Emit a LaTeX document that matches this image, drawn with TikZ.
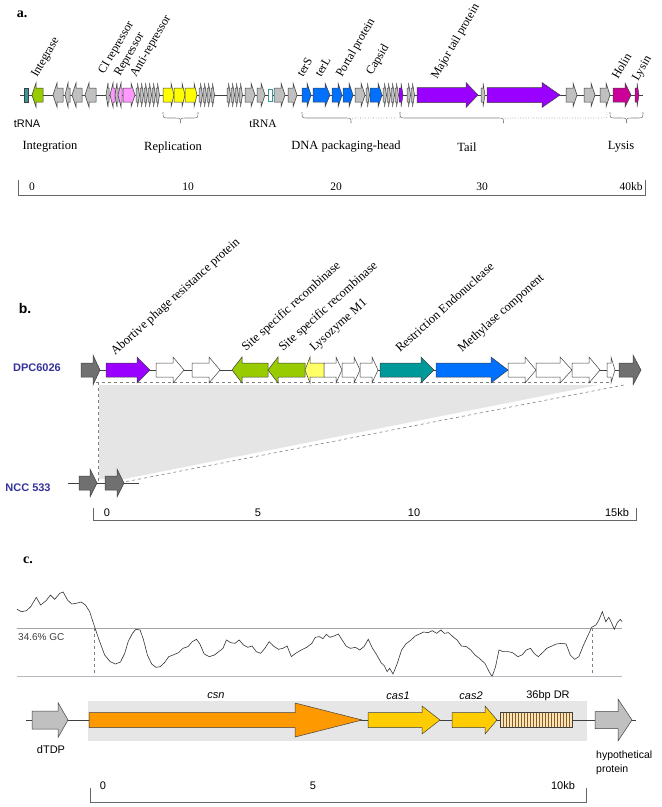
\documentclass[tikz,border=0pt]{standalone}
\usepackage{fontspec}
\setmainfont{Liberation Serif}
\setsansfont{Liberation Sans}
\usetikzlibrary{positioning}
\definecolor{gGrey}{HTML}{C0C0C0}
\definecolor{gLine}{HTML}{404040}
\definecolor{gGreen}{HTML}{99CC00}
\definecolor{gPink}{HTML}{FF99FF}
\definecolor{gYellow}{HTML}{FFFF00}
\definecolor{gBlue}{HTML}{0070FF}
\definecolor{gPurple}{HTML}{9900FF}
\definecolor{gMag}{HTML}{CC0099}
\definecolor{gTeal}{HTML}{339999}
\definecolor{bDark}{HTML}{707070}
\definecolor{bTeal}{HTML}{009999}
\definecolor{bYellow}{HTML}{FFFF66}
\definecolor{bNavy}{HTML}{333399}
\definecolor{cOrange}{HTML}{FF9900}
\definecolor{cYellow}{HTML}{FFCC00}
\definecolor{cDR}{HTML}{FBE5B5}
\definecolor{cStripe}{HTML}{8B5A2B}
\definecolor{cBg}{HTML}{E6E6E6}
\definecolor{cSep}{HTML}{B4BAC0}
% gene arrows: style, x1, x2, y, head length, body half, head half
\newcommand{\geneR}[7]{\filldraw[#1] (#2,#4-#6) -- (#3-#5,#4-#6) -- (#3-#5,#4-#7) -- (#3,#4) -- (#3-#5,#4+#7) -- (#3-#5,#4+#6) -- (#2,#4+#6) -- cycle;}
\newcommand{\geneL}[7]{\filldraw[#1] (#3,#4-#6) -- (#2+#5,#4-#6) -- (#2+#5,#4-#7) -- (#2,#4) -- (#2+#5,#4+#7) -- (#2+#5,#4+#6) -- (#3,#4+#6) -- cycle;}
% brace under a module: x left, x right, y, style of right half
\newcommand{\gbrace}[4]{%
  \pgfmathsetmacro{\bmid}{(#1+#2)/2}
  \draw[brc] (#1,#3) .. controls (#1,#3+6) .. (#1+6,#3+6) -- (\bmid-6,#3+6) .. controls (\bmid,#3+6) .. (\bmid,#3+11);
  \draw[brc,#4] (\bmid,#3+11) .. controls (\bmid,#3+6) .. (\bmid+6,#3+6) -- (#2-6,#3+6) .. controls (#2,#3+6) .. (#2,#3);}

\begin{document}
\begin{tikzpicture}[x=1pt,y=-1pt,
    trk/.style={draw=gLine, line width=0.6pt},
    gen/.style={draw=gLine, line width=0.5pt},
    ga/.style={gen, fill=gGrey},
    brc/.style={draw=gray, line width=0.6pt},
    sbar/.style={draw=gray!80!black, line width=0.7pt},
    dsh/.style={draw=gray, dashed, line width=0.6pt},
    alab/.style={font=\fontsize{12}{14}\selectfont, rotate=60, anchor=base west, inner sep=0pt},
    blab/.style={font=\fontsize{12.5}{14}\selectfont, rotate=42, anchor=base west, inner sep=0pt},
    mlab/.style={font=\fontsize{12.5}{14}\selectfont, inner sep=0pt},
    slab/.style={font=\fontsize{11.5}{14}\selectfont, inner sep=0pt},
    ssans/.style={font=\sffamily\fontsize{11}{13}\selectfont, inner sep=0pt},
    panel/.style={font=\bfseries\fontsize{14}{16}\selectfont, inner sep=0pt},
    strain/.style={font=\sffamily\bfseries\fontsize{11}{13}\selectfont, text=bNavy, inner sep=0pt}]
  \useasboundingbox (0,0) rectangle (662,807);

  % ---------------- a. ----------------
  \node[panel] (pa) at (22,14) {a.};
  \draw[trk] (20,95) -- (643,95);
  \filldraw[gen, fill=gTeal] (24,88) rectangle (28,102);
  \geneL{gen, fill=gGreen}{32}{43}{95}{4}{7}{12}
  \geneL{ga}{53}{63}{95}{4}{7}{12}
  \geneL{ga}{65}{70}{95}{3}{7}{12}
  \geneL{ga}{72}{82}{95}{4}{7}{12}
  \geneL{ga}{85}{96}{95}{4}{7}{12}
  \geneL{ga}{106}{109}{95}{2}{7}{12}
  \geneL{gen, fill=gPink}{110}{115}{95}{3}{7}{12}
  \geneL{ga}{115}{118}{95}{2}{7}{12}
  \geneL{gen, fill=gPink}{118}{122}{95}{3}{7}{12}
  \geneR{gen, fill=gPink}{123}{135}{95}{4}{7}{12}
  \foreach \s in {136,140,...,158}
    {\geneR{ga}{\s}{\s+3.5}{95}{2}{7}{12}}
  \geneR{gen, fill=gYellow}{163}{174}{95}{3}{7}{12}
  \geneR{gen, fill=gYellow}{174}{185}{95}{3}{7}{12}
  \geneR{gen, fill=gYellow}{185}{197}{95}{3}{7}{12}
  \foreach \s in {199,203,207,211}
    {\geneR{ga}{\s}{\s+3.5}{95}{2}{7}{12}}
  \foreach \s in {227,231,235,239}
    {\geneR{ga}{\s}{\s+3.5}{95}{2}{7}{12}}
  \geneR{ga}{245}{255}{95}{4}{7}{12}
  \geneR{ga}{257}{265}{95}{4}{7}{12}
  \filldraw[gen, draw=gTeal, fill=white] (268,89) rectangle (272,101);
  \geneR{ga}{274}{285}{95}{4}{7}{12}
  \geneR{ga}{288}{297}{95}{4}{7}{12}
  \geneR{gen, fill=gBlue}{302}{311}{95}{4}{7}{12}
  \geneR{gen, fill=gBlue}{313}{330}{95}{5}{7}{12}
  \geneR{gen, fill=gBlue}{332}{342}{95}{4}{7}{12}
  \geneR{gen, fill=gBlue}{343}{353}{95}{4}{7}{12}
  \geneR{ga}{355}{365}{95}{4}{7}{12}
  \geneR{ga}{366}{369.5}{95}{2}{7}{12}
  \geneR{gen, fill=gBlue}{370}{382}{95}{4}{7}{12}
  \foreach \s in {383,387,391,395}
    {\geneR{ga}{\s}{\s+3.5}{95}{2}{7}{12}}
  \geneR{gen, fill=gPurple}{399}{403}{95}{2}{7}{12}
  \geneR{ga}{407}{410.5}{95}{2}{7}{12}
  \geneR{ga}{411}{414.5}{95}{2}{7}{12}
  \geneR{gen, fill=gPurple}{417}{478}{95}{12}{7.5}{12.5}
  \geneR{ga}{481}{485}{95}{2}{7}{12}
  \geneR{gen, fill=gPurple}{487}{560}{95}{18}{7.5}{12.5}
  \geneR{ga}{566}{577}{95}{4}{7}{12}
  \geneR{ga}{584}{595}{95}{4}{7}{12}
  \geneR{ga}{600}{610}{95}{4}{7}{12}
  \geneR{gen, fill=gMag}{613}{631}{95}{6}{7}{12}
  \geneR{gen, fill=gMag}{635}{639}{95}{2}{7}{12}

  \node[alab] (lint) at (37,78) {Integrase};
  \node[alab] (lci) at (104,75) {CI repressor};
  \node[alab] (lrep) at (120,77) {Repressor};
  \node[alab] (lanti) at (136,78) {Anti-repressor};
  \node[alab] (lters) at (303,78) {terS};
  \node[alab] (lterl) at (321,78) {terL};
  \node[alab] (lport) at (342,78) {Portal protein};
  \node[alab] (lcap) at (372,76) {Capsid};
  \node[alab] (ltail) at (437,80) {Major tail protein};
  \node[alab] (lhol) at (618,80) {Holin};
  \node[alab] (llys) at (638,82) {Lysin};

  \node[ssans] (trna1) at (27,124) {tRNA};
  \node[slab] (trna2) at (263,124) {tRNA};
  \gbrace{163}{198}{112}{}
  \gbrace{302}{400}{112}{dotted}
  \gbrace{400}{607}{112}{dotted}
  \gbrace{610}{643}{112}{}
  \node[mlab] (mint) at (50,147) {Integration};
  \node[mlab] (mrep) at (173,147) {Replication};
  \node[mlab] (mdna) at (346,147) {DNA packaging-head};
  \node[mlab] (mtail) at (467,147) {Tail};
  \node[mlab] (mlys) at (621,147) {Lysis};

  \draw[sbar] (18,180) -- (18,195) -- (645,195) -- (645,180);
  \node[slab] (a0) at (32,187) {0};
  \node[slab] (a10) at (188,187) {10};
  \node[slab] (a20) at (336,187) {20};
  \node[slab] (a30) at (482,187) {30};
  \node[slab] (a40) at (631,187) {40kb};

  % ---------------- b. ----------------
  \node[panel, font=\sffamily\bfseries\fontsize{14}{16}\selectfont] (pb) at (25,308) {b.};
  \node[strain] (dpc) at (37,368) {DPC6026};
  \node[strain] (ncc) at (28,488) {NCC 533};

  \fill[black!10] (99,385) -- (598,385) -- (124,479) -- (99,479) -- cycle;
  \draw[dsh] (96,382) -- (611,382);
  \draw[dsh] (98,382) -- (98,481);
  \draw[dsh] (624,385) -- (124,482);

  \draw[trk] (81,370) -- (619,370);
  \geneR{gen, fill=bDark}{81}{100}{370}{7}{7}{15}
  \geneR{gen, fill=gPurple}{106}{150}{370}{13}{7}{13}
  \geneR{gen, fill=white}{156}{184}{370}{11}{7}{13}
  \geneR{gen, fill=white}{192}{220}{370}{11}{7}{13}
  \geneL{gen, fill=gGreen}{232}{268}{370}{10}{7}{13}
  \geneL{gen, fill=gGreen}{268}{305}{370}{10}{7}{13}
  \geneL{gen, fill=bYellow}{305}{324}{370}{5}{7}{13}
  \geneR{gen, fill=white}{324}{342}{370}{6}{7}{13}
  \geneR{gen, fill=white}{342}{360}{370}{6}{7}{13}
  \geneR{gen, fill=white}{360}{378}{370}{6}{7}{13}
  \geneR{gen, fill=bTeal}{380}{434}{370}{13}{7}{13}
  \geneR{gen, fill=gBlue}{436}{508}{370}{17}{7}{13}
  \geneR{gen, fill=white}{508}{536}{370}{11}{7}{13}
  \geneR{gen, fill=white}{536}{572}{370}{12}{7}{13}
  \geneR{gen, fill=white}{572}{600}{370}{11}{7}{13}
  \geneR{gen, fill=white}{607}{615}{370}{4}{7}{13}
  \geneR{gen, fill=bDark}{619}{641}{370}{8}{7}{15}

  \draw[trk] (68,483) -- (139,483);
  \geneR{gen, fill=bDark}{79}{97}{483}{7}{7}{14}
  \geneR{gen, fill=bDark}{105}{124}{483}{7}{7}{14}

  \node[blab] (babo) at (115,356) {Abortive phage resistance protein};
  \node[blab] (bss1) at (246,352) {Site specific recombinase};
  \node[blab] (bss2) at (283,352) {Site specific recombinase};
  \node[blab] (blyz) at (314,352) {Lysozyme M1};
  \node[blab] (bres) at (400,353) {Restriction Endonuclease};
  \node[blab] (bmet) at (462,353) {Methylase component};

  \draw[sbar] (93,508) -- (93,520) -- (636,520) -- (636,508);
  \node[ssans] (b0) at (107,513) {0};
  \node[ssans] (b5) at (258,513) {5};
  \node[ssans] (b10) at (414,513) {10};
  \node[ssans] (b15) at (617,513) {15kb};

  % ---------------- c. ----------------
  \node[panel] (pc) at (28,560) {c.};
  \draw[draw=gray!70, line width=0.8pt] (17,628) -- (622,628);
  \node[ssans, anchor=west, text=black!75, font=\sffamily\fontsize{10}{12}\selectfont] (gc) at (18,637) {34.6\% GC};
  \begin{scope}[shift={(0,540)}, xscale=0.4272, yscale=0.3333]
    \draw[black!80, line width=0.6pt] plot coordinates {(40,208) (50,215) (62,212) (72,200) (85,172) (95,195) (108,182) (118,165) (128,178) (140,160) (148,156) (158,180) (168,192) (178,190) (190,186) (200,195) (210,215) (220,255) (232,300) (245,345) (258,365) (270,372) (282,366) (292,340) (300,305) (310,280) (318,268) (328,270) (336,300) (345,345) (355,372) (365,382) (375,380) (385,368) (395,350) (405,345) (418,338) (428,325) (440,320) (450,305) (460,298) (468,312) (478,342) (490,350) (502,345) (512,335) (522,325) (530,300) (540,308) (550,310) (560,300) (570,315) (580,322) (590,318) (600,335) (610,340) (620,325) (630,305) (640,318) (652,328) (662,325) (672,318) (682,350) (692,340) (705,330) (718,322) (730,310) (738,292) (748,290) (756,296) (764,283) (772,292) (782,288) (792,282) (800,298) (810,318) (820,325) (832,322) (842,330) (852,320) (862,298) (872,325) (882,345) (892,368) (900,378) (906,395) (912,385) (920,402) (930,370) (940,330) (950,312) (962,300) (972,288) (982,282) (992,276) (1002,278) (1012,272) (1022,280) (1032,270) (1040,280) (1050,278) (1060,290) (1070,300) (1080,318) (1092,320) (1102,330) (1112,345) (1122,355) (1135,370) (1145,395) (1152,410) (1160,380) (1168,330) (1178,335) (1190,335) (1200,338) (1212,350) (1222,345) (1232,330) (1242,325) (1250,340) (1260,350) (1270,338) (1280,325) (1292,318) (1302,312) (1315,310) (1325,312) (1335,345) (1345,358) (1355,350) (1365,318) (1375,290) (1385,262) (1395,255) (1402,240) (1410,215) (1418,245) (1425,232) (1432,250) (1438,268) (1445,248) (1452,238) (1456,245)};
  \end{scope}
  \draw[dsh] (94,628) -- (94,676);
  \draw[dsh] (592,628) -- (592,676);
  \draw[draw=cSep, line width=0.8pt] (17,676) -- (622,676);

  \fill[cBg] (88,701) rectangle (587,741);
  \draw[trk] (26,720) -- (636,720);
  \geneR{gen, fill=gGrey}{32}{68}{720}{10}{9}{17.5}
  \geneR{gen, fill=cOrange}{89}{362}{720}{67}{7.5}{17}
  \geneR{gen, fill=cYellow}{368}{440}{720}{18}{7.5}{14}
  \geneR{gen, fill=cYellow}{452}{497}{720}{12}{7.5}{14}
  \filldraw[gen, fill=cDR] (500,712.5) rectangle (572,727.5);
  \foreach \s in {503,506,...,570}
    {\draw[cStripe, line width=0.6pt] (\s,712.5) -- (\s,727.5);}
  \draw[gen] (500,712.5) rectangle (572,727.5);
  \geneR{gen, fill=gGrey}{595}{632}{720}{14}{8.5}{21}

  \node[ssans, font=\sffamily\itshape\fontsize{11}{13}\selectfont] (csn) at (216,696) {csn};
  \node[ssans, font=\sffamily\itshape\fontsize{11}{13}\selectfont] (cas1) at (398,696) {cas1};
  \node[ssans, font=\sffamily\itshape\fontsize{11}{13}\selectfont] (cas2) at (471,696) {cas2};
  \node[ssans] (dr) at (548,696) {36bp DR};
  \node[ssans] (dtdp) at (51,750) {dTDP};
  \node[ssans, anchor=west, font=\sffamily\fontsize{10.5}{12}\selectfont] (hyp) at (596,756) {hypothetical};
  \node[ssans, anchor=west, font=\sffamily\fontsize{10.5}{12}\selectfont] (prot) at (596,770) {protein};

  \draw[sbar] (90,788) -- (90,802) -- (586,802) -- (586,788);
  \node[ssans] (c0) at (103,786) {0};
  \node[ssans] (c5) at (313,786) {5};
  \node[ssans] (c10) at (563,786) {10kb};
\end{tikzpicture}
\end{document}
